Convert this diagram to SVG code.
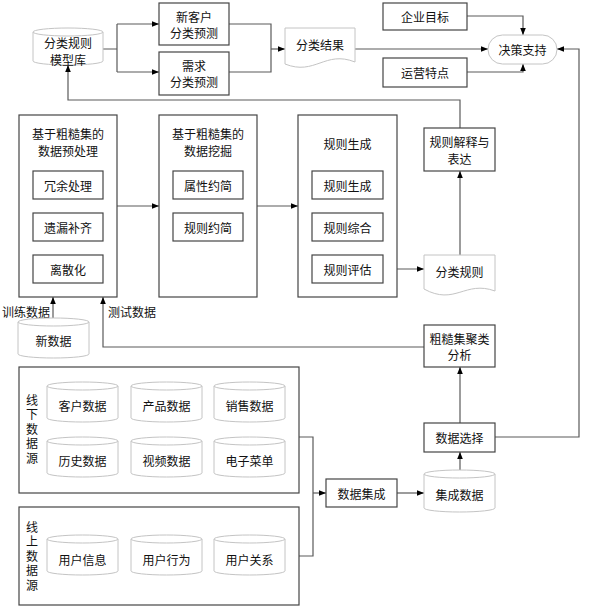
<svg xmlns="http://www.w3.org/2000/svg" width="590" height="610" viewBox="0 0 590 610">
<style>
.box{fill:#fff;stroke:#454545;stroke-width:1.2}
.cyl{fill:#fff;stroke:#c4c4c4;stroke-width:1}
.ln{fill:none;stroke:#5a5a5a;stroke-width:1.2}
.t{font-family:"Noto Sans CJK SC","Noto Sans",sans-serif;font-size:12px;fill:#111;text-anchor:middle;dominant-baseline:central}
.v{font-family:"Noto Sans CJK SC","Noto Sans",sans-serif;font-size:12px;fill:#111;writing-mode:vertical-rl;letter-spacing:2.5px}
</style>
<defs>
<marker id="a" viewBox="0 0 10 10" refX="10" refY="5" markerWidth="7" markerHeight="7" markerUnits="userSpaceOnUse" orient="auto"><path d="M0,1 L10,5 L0,9 Z" fill="#000"/></marker>
</defs>
<rect width="590" height="610" fill="#fff"/>

<g id="connectors">
<path class="ln" d="M103,49 H117 M117,24 V72"/>
<path class="ln" d="M117,24 H159" marker-end="url(#a)"/>
<path class="ln" d="M117,72 H159" marker-end="url(#a)"/>
<path class="ln" d="M229,24 H271 V72 H229"/>
<path class="ln" d="M271,49 H285" marker-end="url(#a)"/>
<path class="ln" d="M355,49 H488" marker-end="url(#a)"/>
<path class="ln" d="M467,16 H523 V35" marker-end="url(#a)"/>
<path class="ln" d="M467,72 H523 V64" marker-end="url(#a)"/>
<path class="ln" d="M460,128 V100 H68 V65" marker-end="url(#a)"/>
<path class="ln" d="M117,206 H159" marker-end="url(#a)"/>
<path class="ln" d="M257,206 H298" marker-end="url(#a)"/>
<path class="ln" d="M348,199 V213" marker-end="url(#a)"/>
<path class="ln" d="M348,241 V255" marker-end="url(#a)"/>
<path class="ln" d="M383,269 H424" marker-end="url(#a)"/>
<path class="ln" d="M460,255 V171" marker-end="url(#a)"/>
<path class="ln" d="M424,347 H103 V297" marker-end="url(#a)"/>
<path class="ln" d="M53,318 V297" marker-end="url(#a)"/>
<path class="ln" d="M299,437 H313 V556 H299"/>
<path class="ln" d="M313,493 H326" marker-end="url(#a)"/>
<path class="ln" d="M397,493 H424" marker-end="url(#a)"/>
<path class="ln" d="M460,470 V452" marker-end="url(#a)"/>
<path class="ln" d="M460,423 V367" marker-end="url(#a)"/>
<path class="ln" d="M495,437 H579 V49 H557" marker-end="url(#a)"/>
<text class="t" x="26" y="311">训练数据</text>
<text class="t" x="132" y="311">测试数据</text>
</g>

<g id="model-lib">
<path class="cyl" d="M33,32 A35,4 0 0 1 103,32 V61 A35,4 0 0 1 33,61 Z M33,32 A35,4 0 0 0 103,32"/>
<text class="t" x="68" y="42">分类规则<tspan x="68" dy="17">模型库</tspan></text>
</g>
<g id="new-customer">
<rect class="box" x="159" y="3" width="70" height="42"/>
<text class="t" x="194" y="16">新客户<tspan x="194" dy="16">分类预测</tspan></text>
</g>
<g id="demand">
<rect class="box" x="159" y="52" width="70" height="43"/>
<text class="t" x="194" y="65">需求<tspan x="194" dy="16">分类预测</tspan></text>
</g>
<g id="class-result">
<path class="cyl" d="M285,28 H355 V62 C325,50 315,76 285,64 Z"/>
<text class="t" x="320" y="44">分类结果</text>
</g>
<g id="goal">
<rect class="box" x="383" y="3" width="84" height="27"/>
<text class="t" x="425" y="16.5">企业目标</text>
</g>
<g id="ops">
<rect class="box" x="383" y="58" width="84" height="29"/>
<text class="t" x="425" y="72.5">运营特点</text>
</g>
<g id="decision">
<rect class="cyl" x="488" y="35" width="69" height="29" rx="14.5"/>
<text class="t" x="522.5" y="49.5">决策支持</text>
</g>

<g id="preprocess">
<rect class="box" x="19" y="115" width="98" height="182"/>
<text class="t" x="68" y="133">基于粗糙集的<tspan x="68" dy="17">数据预处理</tspan></text>
<rect class="box" x="33" y="171" width="70" height="28"/>
<text class="t" x="68" y="185">冗余处理</text>
<rect class="box" x="33" y="213" width="70" height="28"/>
<text class="t" x="68" y="227">遗漏补齐</text>
<rect class="box" x="33" y="255" width="70" height="28"/>
<text class="t" x="68" y="269">离散化</text>
</g>
<g id="mining">
<rect class="box" x="159" y="115" width="98" height="182"/>
<text class="t" x="208" y="133">基于粗糙集的<tspan x="208" dy="17">数据挖掘</tspan></text>
<rect class="box" x="173" y="171" width="70" height="28"/>
<text class="t" x="208" y="185">属性约简</text>
<rect class="box" x="173" y="213" width="70" height="28"/>
<text class="t" x="208" y="227">规则约简</text>
</g>
<g id="rulegen">
<rect class="box" x="298" y="115" width="99" height="182"/>
<text class="t" x="347.5" y="143">规则生成</text>
<rect class="box" x="312" y="171" width="71" height="28"/>
<text class="t" x="347.5" y="185">规则生成</text>
<rect class="box" x="312" y="213" width="71" height="28"/>
<text class="t" x="347.5" y="227">规则综合</text>
<rect class="box" x="312" y="255" width="71" height="28"/>
<text class="t" x="347.5" y="269">规则评估</text>
</g>
<g id="class-rules">
<path class="cyl" d="M424,255 H495 V291 C465,280 455,306 424,289 Z"/>
<text class="t" x="459.5" y="271">分类规则</text>
</g>
<g id="rule-explain">
<rect class="box" x="424" y="128" width="71" height="43"/>
<text class="t" x="459.5" y="141">规则解释与<tspan x="459.5" dy="17">表达</tspan></text>
</g>
<g id="cluster">
<rect class="box" x="424" y="325" width="71" height="42"/>
<text class="t" x="459.5" y="338">粗糙集聚类<tspan x="459.5" dy="16">分析</tspan></text>
</g>
<g id="new-data">
<path class="cyl" d="M18,322 A35.5,4 0 0 1 89,322 V354 A35.5,4 0 0 1 18,354 Z M18,322 A35.5,4 0 0 0 89,322"/>
<text class="t" x="53.5" y="340">新数据</text>
</g>

<g id="offline">
<rect class="box" x="19" y="367" width="280" height="126"/>
<text class="v" x="32" y="394">线下数据源</text>
<path class="cyl" d="M47,386 A35.5,4 0 0 1 118,386 V418 A35.5,4 0 0 1 47,418 Z M47,386 A35.5,4 0 0 0 118,386"/>
<text class="t" x="82.5" y="405">客户数据</text>
<path class="cyl" d="M131,386 A35.5,4 0 0 1 202,386 V418 A35.5,4 0 0 1 131,418 Z M131,386 A35.5,4 0 0 0 202,386"/>
<text class="t" x="166.5" y="405">产品数据</text>
<path class="cyl" d="M214,386 A35.5,4 0 0 1 285,386 V418 A35.5,4 0 0 1 214,418 Z M214,386 A35.5,4 0 0 0 285,386"/>
<text class="t" x="249.5" y="405">销售数据</text>
<path class="cyl" d="M47,441 A35.5,4 0 0 1 118,441 V473 A35.5,4 0 0 1 47,473 Z M47,441 A35.5,4 0 0 0 118,441"/>
<text class="t" x="82.5" y="460">历史数据</text>
<path class="cyl" d="M131,441 A35.5,4 0 0 1 202,441 V473 A35.5,4 0 0 1 131,473 Z M131,441 A35.5,4 0 0 0 202,441"/>
<text class="t" x="166.5" y="460">视频数据</text>
<path class="cyl" d="M214,441 A35.5,4 0 0 1 285,441 V473 A35.5,4 0 0 1 214,473 Z M214,441 A35.5,4 0 0 0 285,441"/>
<text class="t" x="249.5" y="460">电子菜单</text>
</g>
<g id="online">
<rect class="box" x="19" y="507" width="280" height="98"/>
<text class="v" x="32" y="521">线上数据源</text>
<path class="cyl" d="M47,539 A35.5,4 0 0 1 118,539 V571 A35.5,4 0 0 1 47,571 Z M47,539 A35.5,4 0 0 0 118,539"/>
<text class="t" x="82.5" y="559">用户信息</text>
<path class="cyl" d="M131,539 A35.5,4 0 0 1 202,539 V571 A35.5,4 0 0 1 131,571 Z M131,539 A35.5,4 0 0 0 202,539"/>
<text class="t" x="166.5" y="559">用户行为</text>
<path class="cyl" d="M214,539 A35.5,4 0 0 1 285,539 V571 A35.5,4 0 0 1 214,571 Z M214,539 A35.5,4 0 0 0 285,539"/>
<text class="t" x="249.5" y="559">用户关系</text>
</g>
<g id="integrate">
<rect class="box" x="326" y="479" width="71" height="28"/>
<text class="t" x="361.5" y="493">数据集成</text>
</g>
<g id="int-data">
<path class="cyl" d="M424,474 A35.5,4 0 0 1 495,474 V508 A35.5,4 0 0 1 424,508 Z M424,474 A35.5,4 0 0 0 495,474"/>
<text class="t" x="459.5" y="494">集成数据</text>
</g>
<g id="select">
<rect class="box" x="424" y="423" width="71" height="29"/>
<text class="t" x="459.5" y="437.5">数据选择</text>
</g>
</svg>
